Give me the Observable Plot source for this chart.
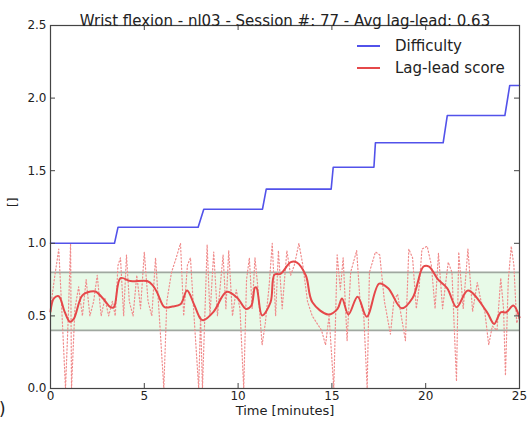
<!DOCTYPE html>
<html>
<head>
<meta charset="utf-8">
<script src="https://cdn.jsdelivr.net/npm/d3@7"></script>
<script src="https://cdn.jsdelivr.net/npm/@observablehq/plot@0.6"></script>
<style>
  html, body { margin: 0; padding: 0; background: #fff; overflow: hidden; }
  #wrap { position: relative; width: 528px; height: 426px; font-family: "DejaVu Sans", sans-serif; color: #222; }
  #legend { position: absolute; left: 357px; top: 35px; font-size: 15px; }
  .item { display: flex; align-items: center; height: 22px; }
  .swatch { width: 23px; height: 2px; margin-right: 15px; }
  #corner { position: absolute; left: -1px; top: 399px; font-size: 17px; }
</style>
</head>
<body>
<div id="wrap"></div>
<script>
const title = "Wrist flexion - nl03 - Session #: 77 - Avg lag-lead: 0.63";
const xLabel = "Time [minutes]";
const yLabel = "[]";
const xTicks = [0, 5, 10, 15, 20, 25];
const yTicks = [0.0, 0.5, 1.0, 1.5, 2.0, 2.5];
const bandLow = 0.4;
const bandHigh = 0.8;

const seriesNames = ["Difficulty", "Lag-lead score"];
const seriesColors = ["#5252ea", "#e5484a"];

// Difficulty (blue step line)
const diffT = [0, 3.41, 3.6, 7.87, 8.17, 11.3, 11.5, 14.96, 15.07, 17.24, 17.32, 20.93, 21.15, 24.22, 24.48, 25];
const diffV = [1.0, 1.0, 1.111, 1.111, 1.235, 1.235, 1.373, 1.373, 1.524, 1.524, 1.692, 1.692, 1.88, 1.88, 2.087, 2.087];

// Smoothed lag-lead score (solid red)
const smoothT = [0, 0.18, 0.44, 0.75, 1.03, 1.24, 1.69, 2.13, 2.4, 2.8, 3.2, 3.38, 3.73, 4.26, 5.15, 5.45, 5.69, 6.08, 6.5, 6.93, 7.28, 7.64, 8.0, 8.14, 8.7, 9.38, 9.95, 10.42, 10.7, 10.9, 10.98, 11.28, 11.73, 11.94, 12.26, 12.81, 13.12, 13.61, 13.96, 14.8, 15.3, 15.54, 15.88, 16.37, 16.86, 17.52, 18.0, 18.72, 19.3, 19.88, 20.18, 20.63, 21.15, 21.65, 22.25, 23.25, 23.65, 24.0, 24.3, 24.67, 25.0];
const smoothV = [0.53, 0.62, 0.635, 0.53, 0.46, 0.48, 0.64, 0.668, 0.668, 0.62, 0.56, 0.56, 0.76, 0.74, 0.74, 0.71, 0.66, 0.56, 0.565, 0.58, 0.675, 0.583, 0.48, 0.47, 0.53, 0.665, 0.625, 0.548, 0.57, 0.695, 0.695, 0.503, 0.594, 0.784, 0.79, 0.87, 0.868, 0.778, 0.594, 0.51, 0.549, 0.62, 0.51, 0.632, 0.495, 0.722, 0.69, 0.552, 0.623, 0.84, 0.84, 0.755, 0.69, 0.56, 0.675, 0.53, 0.445, 0.525, 0.525, 0.572, 0.49];

// Raw lag-lead score (dotted red)
const rawT = [0.0, 0.2, 0.44, 0.6, 0.8, 0.95, 1.07, 1.12, 1.3, 1.5, 1.7, 1.9, 2.1, 2.3, 2.49, 2.7, 2.9, 3.1, 3.3, 3.45, 3.6, 3.73, 3.9, 4.05, 4.2, 4.4, 4.6, 4.8, 5.0, 5.2, 5.4, 5.6, 5.8, 6.04, 6.2, 6.45, 6.7, 6.93, 7.1, 7.3, 7.46, 7.65, 7.9, 8.0, 8.1, 8.35, 8.5, 8.7, 8.9, 9.2, 9.35, 9.5, 9.7, 9.9, 10.1, 10.3, 10.45, 10.6, 10.75, 10.9, 11.05, 11.28, 11.45, 11.65, 11.82, 12.0, 12.15, 12.35, 12.6, 12.8, 13.0, 13.24, 13.45, 13.7, 13.95, 14.2, 14.45, 14.66, 14.85, 15.1, 15.28, 15.45, 15.6, 15.81, 16.0, 16.32, 16.5, 16.7, 16.88, 17.0, 17.32, 17.55, 17.8, 18.12, 18.3, 18.5, 18.92, 19.1, 19.3, 19.5, 19.65, 19.8, 20.08, 20.3, 20.5, 20.68, 20.9, 21.2, 21.4, 21.64, 21.76, 22.0, 22.25, 22.5, 22.75, 22.95, 23.15, 23.36, 23.55, 23.8, 24.0, 24.15, 24.25, 24.4, 24.56, 24.7, 24.85, 25.0];
const rawV = [0.55, 0.75, 0.96, 0.55, 0.0, 0.5, 1.0, 0.0, 0.55, 0.7, 0.5, 0.75, 0.5, 0.6, 0.78, 0.5, 0.62, 0.5, 0.6, 0.5, 0.85, 0.9, 0.5, 0.92, 0.6, 0.5, 0.78, 0.55, 0.94, 0.6, 0.5, 0.9, 0.5, 0.0, 0.6, 0.8, 0.9, 1.0, 0.5, 0.85, 0.9, 0.5, 0.0, 0.5, 0.0, 0.99, 0.5, 0.94, 0.5, 0.92, 0.55, 0.95, 0.5, 0.68, 0.55, 0.0, 0.75, 0.9, 0.55, 0.9, 0.7, 0.3, 0.45, 0.7, 1.0, 0.5, 0.95, 0.55, 0.95, 0.78, 0.85, 1.0, 0.85, 0.6, 0.5, 0.45, 0.4, 0.3, 0.5, 0.0, 0.92, 0.68, 0.9, 0.33, 0.8, 0.95, 0.6, 0.5, 0.0, 0.8, 0.94, 0.92, 0.6, 0.375, 0.6, 0.65, 0.33, 0.96, 0.9, 0.55, 0.7, 0.96, 0.98, 0.85, 0.55, 0.93, 0.55, 0.87, 0.8, 0.05, 0.94, 0.55, 0.96, 0.53, 0.73, 0.6, 0.53, 0.3, 0.43, 0.4, 0.76, 0.55, 0.09, 0.74, 0.98, 0.85, 0.45, 0.5];

const diff = diffT.map((t, i) => ({t, v: diffV[i]}));
const smooth = smoothT.map((t, i) => ({t, v: smoothV[i]}));
const raw = rawT.map((t, i) => ({t, v: rawV[i]}));

const W = 528, H = 426;
const mL = 50, mR = 9, mT = 25, mB = 38;
const innerW = W - mL - mR, innerH = H - mT - mB;
const tickLen = 5;

const chart = Plot.plot({
  width: W, height: H,
  marginLeft: mL, marginRight: mR, marginTop: mT, marginBottom: mB,
  style: {fontFamily: "DejaVu Sans, sans-serif", fontSize: "12px", color: "#222", background: "#fff"},
  x: {domain: [xTicks[0], xTicks[xTicks.length - 1]]},
  y: {domain: [yTicks[0], yTicks[yTicks.length - 1]]},
  marks: [
    Plot.rect([{lo: bandLow, hi: bandHigh}], {y1: "lo", y2: "hi", fill: "#e8fae8"}),
    Plot.ruleY([bandLow, bandHigh], {stroke: "#a0a8a0", strokeWidth: 1.6}),
    Plot.line(raw, {x: "t", y: "v", stroke: "#f08c8c", strokeWidth: 1.2, strokeDasharray: "1.3,2.2"}),
    Plot.line(smooth, {x: "t", y: "v", stroke: seriesColors[1], strokeWidth: 2, curve: "catmull-rom"}),
    Plot.line(diff, {x: "t", y: "v", stroke: seriesColors[0], strokeWidth: 1.6}),
    // inward ticks on all sides
    Plot.tickX(xTicks, {x: d => d, insetTop: innerH - tickLen, stroke: "#444"}),
    Plot.tickX(xTicks, {x: d => d, insetBottom: innerH - tickLen, stroke: "#444"}),
    Plot.tickY(yTicks, {y: d => d, insetRight: innerW - tickLen, stroke: "#444"}),
    Plot.tickY(yTicks, {y: d => d, insetLeft: innerW - tickLen, stroke: "#444"}),
    Plot.axisX({ticks: xTicks, tickSize: 0, tickPadding: 3, tickFormat: d => String(d), label: null, fontSize: 12}),
    Plot.axisY({ticks: yTicks, tickSize: 0, tickPadding: 4, tickFormat: d3.format(".1f"), label: null, fontSize: 12}),
    Plot.frame({stroke: "#444", strokeWidth: 1.2}),
    Plot.text([title], {frameAnchor: "top", dy: -10, fontSize: 15, fill: "#222"}),
    Plot.text([xLabel], {frameAnchor: "bottom", dy: 26, fontSize: 13, fill: "#222"}),
    Plot.text([yLabel], {frameAnchor: "left", dx: -37, rotate: -90, fontSize: 12, fill: "#222"})
  ]
});

const wrap = document.getElementById("wrap");
wrap.appendChild(chart);

const legend = document.createElement("div");
legend.id = "legend";
seriesNames.forEach((name, i) => {
  const item = document.createElement("div");
  item.className = "item";
  const sw = document.createElement("span");
  sw.className = "swatch";
  sw.style.background = seriesColors[i];
  const lab = document.createElement("span");
  lab.textContent = name;
  item.appendChild(sw);
  item.appendChild(lab);
  legend.appendChild(item);
});
wrap.appendChild(legend);

const corner = document.createElement("div");
corner.id = "corner";
corner.textContent = ")";
wrap.appendChild(corner);
</script>
</body>
</html>
